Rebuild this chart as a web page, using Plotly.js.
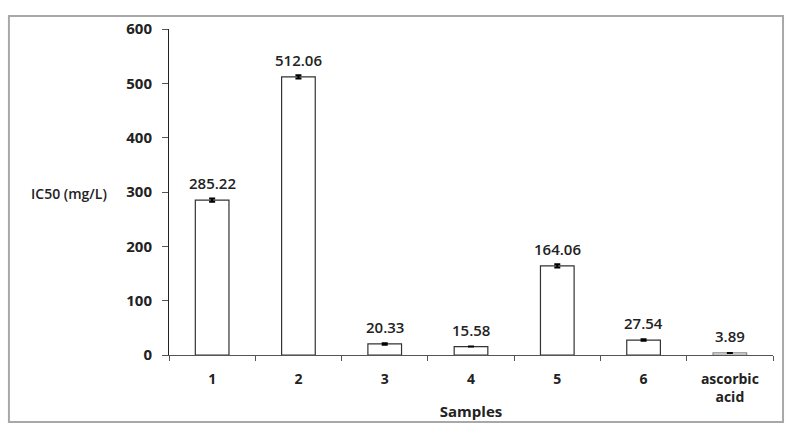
<!DOCTYPE html>
<html>
<head>
<meta charset="utf-8">
<script src="https://cdn.plot.ly/plotly-3.0.1.min.js"></script>
<style>html,body{margin:0;padding:0;background:#fff;}</style>
</head>
<body>
<div id="chart" style="width:797px;height:438px;"></div>
<script>
const categories = ["1", "2", "3", "4", "5", "6", "ascorbic<br>acid"];
const values = [285.22, 512.06, 20.33, 15.58, 164.06, 27.54, 3.89];
const labels = ["285.22", "512.06", "20.33", "15.58", "164.06", "27.54", "3.89"];
const errors = [3, 3, 1.5, 0, 3, 1.5, 0];
const outlineColors = ["#333333", "#333333", "#333333", "#333333", "#333333", "#333333", "#888888"];
const yTicks = [0, 100, 200, 300, 400, 500, 600];

const FONT = "'Open Sans', Lato, sans-serif";

const trace = {
  type: "bar",
  x: categories,
  y: values,
  width: 0.39,
  marker: {color: "#ffffff", line: {color: outlineColors, width: 1.2}},
  error_y: {type: "data", array: errors, visible: true, color: "#000000", thickness: 2, width: 3},
  hoverinfo: "none"
};

const annotations = categories.map((c, i) => ({
  x: i, y: values[i], xref: "x", yref: "y",
  text: labels[i], showarrow: false, yanchor: "middle", yshift: 17,
  font: {family: FONT, size: 15, color: "#222222", weight: 600}
}));
annotations.push({
  xref: "paper", yref: "paper", x: -0.10, y: 0.495, xanchor: "right", yanchor: "middle",
  text: "IC50 (mg/L)", showarrow: false, font: {family: FONT, size: 14, color: "#222222", weight: 600}
});

const layout = {
  width: 797, height: 438,
  margin: {l: 169, r: 24, t: 29, b: 83},
  paper_bgcolor: "#ffffff", plot_bgcolor: "#ffffff",
  showlegend: false,
  font: {family: FONT, size: 14, color: "#222222"},
  xaxis: {
    type: "category",
    showline: true, linecolor: "#555555", linewidth: 1,
    ticks: "outside", tickson: "boundaries", ticklen: 5, tickcolor: "#555555",
    ticklabelstandoff: 11,
    showgrid: false, zeroline: false,
    tickfont: {family: FONT, size: 14, color: "#222222", weight: "bold"},
    title: {text: "Samples", font: {family: FONT, size: 15, color: "#222222", weight: "bold"}, standoff: 1}
  },
  yaxis: {
    range: [0, 600], tickvals: yTicks, ticktext: yTicks.map(String),
    showline: true, linecolor: "#222222", linewidth: 1,
    ticks: "outside", ticklen: 6, tickcolor: "#555555",
    ticklabelstandoff: 7,
    showgrid: false, zeroline: false,
    tickfont: {family: FONT, size: 15, color: "#222222", weight: "bold"}
  },
  annotations: annotations,
  shapes: [{
    type: "rect", xref: "paper", yref: "paper",
    x0: -0.265, x1: 1.0166, y0: -0.2055, y1: 1.0399,
    line: {color: "#a8a8a8", width: 2}, fillcolor: "rgba(0,0,0,0)", layer: "below"
  }]
};

Plotly.newPlot("chart", [trace], layout, {staticPlot: true, displayModeBar: false});
</script>
</body>
</html>
